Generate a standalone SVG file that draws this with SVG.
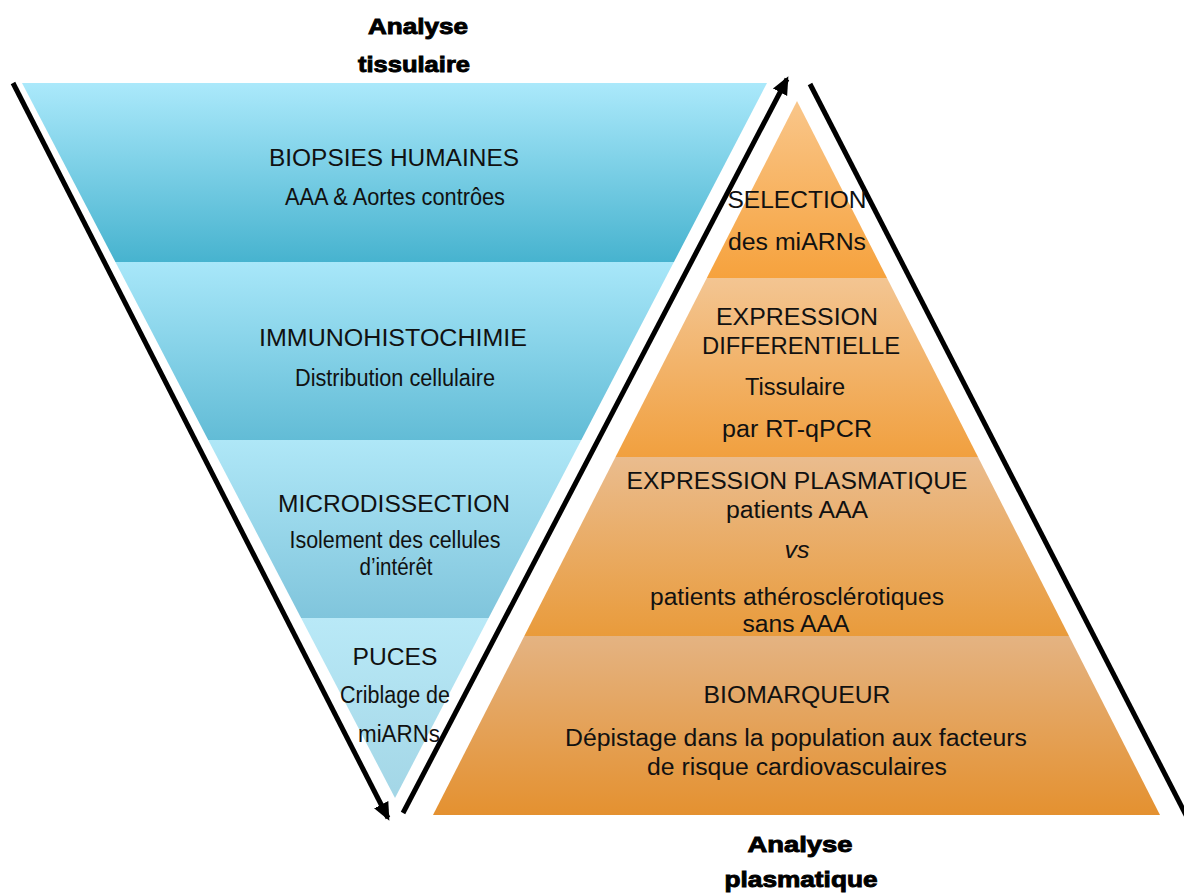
<svg xmlns="http://www.w3.org/2000/svg" width="1184" height="894" viewBox="0 0 1184 894">
<defs>
<linearGradient id="b1" x1="0" y1="0" x2="0" y2="1"><stop offset="0" stop-color="#abe9fb"/><stop offset="1" stop-color="#47b3cf"/></linearGradient>
<linearGradient id="b2" x1="0" y1="0" x2="0" y2="1"><stop offset="0" stop-color="#a8e7f9"/><stop offset="1" stop-color="#62bcd6"/></linearGradient>
<linearGradient id="b3" x1="0" y1="0" x2="0" y2="1"><stop offset="0" stop-color="#afe7f7"/><stop offset="1" stop-color="#80c5dc"/></linearGradient>
<linearGradient id="b4" x1="0" y1="0" x2="0" y2="1"><stop offset="0" stop-color="#b9e9f7"/><stop offset="1" stop-color="#a3d6e6"/></linearGradient>
<linearGradient id="o1" x1="0" y1="0" x2="0" y2="1"><stop offset="0" stop-color="#f9c68a"/><stop offset="1" stop-color="#f6a23d"/></linearGradient>
<linearGradient id="o2" x1="0" y1="0" x2="0" y2="1"><stop offset="0" stop-color="#f3c592"/><stop offset="1" stop-color="#f1a03f"/></linearGradient>
<linearGradient id="o3" x1="0" y1="0" x2="0" y2="1"><stop offset="0" stop-color="#eabc8e"/><stop offset="1" stop-color="#e99b3b"/></linearGradient>
<linearGradient id="o4" x1="0" y1="0" x2="0" y2="1"><stop offset="0" stop-color="#e4b382"/><stop offset="1" stop-color="#e49130"/></linearGradient>
<marker id="ah" markerUnits="userSpaceOnUse" markerWidth="20" markerHeight="18" refX="15" refY="8" orient="auto" viewBox="0 0 20 16">
<path d="M0,0 L18,8 L0,16 z" fill="#000"/>
</marker>
<style>
.t{font-family:"Liberation Sans",Arial,sans-serif;font-size:23px;fill:#111;text-anchor:middle}
.h{font-family:"Liberation Sans",Arial,sans-serif;font-size:22px;font-weight:bold;fill:#000;stroke:#000;stroke-width:0.9;text-anchor:middle}
.ln{stroke:#000;stroke-width:5;fill:none}
</style>
</defs>

<g id="tissue-funnel">
<polygon points="22,83 767,83 673.9,262 115.4,262" fill="url(#b1)"/>
<polygon points="115.4,262 673.9,262 581.3,440 208.2,440" fill="url(#b2)"/>
<polygon points="208.2,440 581.3,440 488.6,618 301.1,618" fill="url(#b3)"/>
<polygon points="301.1,618 488.6,618 395,798" fill="url(#b4)"/>
</g>

<g id="plasma-pyramid">
<polygon points="797,101 887,278 706.8,278" fill="url(#o1)"/>
<polygon points="706.8,278 887,278 978,457 615.5,457" fill="url(#o2)"/>
<polygon points="615.5,457 978,457 1069,636 524.3,636" fill="url(#o3)"/>
<polygon points="524.3,636 1069,636 1160,815 433,815" fill="url(#o4)"/>
</g>

<g id="connectors">
<line class="ln" x1="13" y1="83" x2="388" y2="818" marker-end="url(#ah)"/>
<line class="ln" x1="403" y1="813" x2="787" y2="79" marker-end="url(#ah)"/>
<line class="ln" x1="810" y1="84" x2="1187" y2="817"/>
</g>

<g id="title-tissue">
<text class="h" x="418" y="34" textLength="100" lengthAdjust="spacingAndGlyphs">Analyse</text>
<text class="h" x="414" y="72" textLength="112" lengthAdjust="spacingAndGlyphs">tissulaire</text>
</g>
<g id="title-plasma">
<text class="h" x="800" y="852" textLength="105" lengthAdjust="spacingAndGlyphs">Analyse</text>
<text class="h" x="801" y="887" textLength="153" lengthAdjust="spacingAndGlyphs">plasmatique</text>
</g>

<g id="node-biopsies">
<text class="t" x="394" y="166" textLength="250" lengthAdjust="spacingAndGlyphs">BIOPSIES HUMAINES</text>
<text class="t" x="395" y="205" textLength="220" lengthAdjust="spacingAndGlyphs">AAA &amp; Aortes contrôes</text>
</g>
<g id="node-immuno">
<text class="t" x="393" y="346" textLength="268" lengthAdjust="spacingAndGlyphs">IMMUNOHISTOCHIMIE</text>
<text class="t" x="395" y="386" textLength="200" lengthAdjust="spacingAndGlyphs">Distribution cellulaire</text>
</g>
<g id="node-microdissection">
<text class="t" x="394" y="512" textLength="232" lengthAdjust="spacingAndGlyphs">MICRODISSECTION</text>
<text class="t" x="395" y="548" textLength="211" lengthAdjust="spacingAndGlyphs">Isolement des cellules</text>
<text class="t" x="396" y="575" textLength="73" lengthAdjust="spacingAndGlyphs">d’intérêt</text>
</g>
<g id="node-puces">
<text class="t" x="395" y="665" textLength="85" lengthAdjust="spacingAndGlyphs">PUCES</text>
<text class="t" x="395" y="703" textLength="110" lengthAdjust="spacingAndGlyphs">Criblage de</text>
<text class="t" x="399" y="742" textLength="82" lengthAdjust="spacingAndGlyphs">miARNs</text>
</g>

<g id="node-selection">
<text class="t" x="797" y="208" textLength="139" lengthAdjust="spacingAndGlyphs">SELECTION</text>
<text class="t" x="797" y="250" textLength="138" lengthAdjust="spacingAndGlyphs">des miARNs</text>
</g>
<g id="node-expression-diff">
<text class="t" x="797" y="325" textLength="162" lengthAdjust="spacingAndGlyphs">EXPRESSION</text>
<text class="t" x="801" y="354" textLength="198" lengthAdjust="spacingAndGlyphs">DIFFERENTIELLE</text>
<text class="t" x="795" y="395" textLength="100" lengthAdjust="spacingAndGlyphs">Tissulaire</text>
<text class="t" x="797" y="437" textLength="150" lengthAdjust="spacingAndGlyphs">par RT-qPCR</text>
</g>
<g id="node-expression-plasma">
<text class="t" x="797" y="489" textLength="341" lengthAdjust="spacingAndGlyphs">EXPRESSION PLASMATIQUE</text>
<text class="t" x="797" y="518" textLength="142" lengthAdjust="spacingAndGlyphs">patients AAA</text>
<text class="t" x="797" y="558" font-style="italic" textLength="25" lengthAdjust="spacingAndGlyphs">vs</text>
<text class="t" x="797" y="605" textLength="294" lengthAdjust="spacingAndGlyphs">patients athérosclérotiques</text>
<text class="t" x="796" y="632" textLength="107" lengthAdjust="spacingAndGlyphs">sans AAA</text>
</g>
<g id="node-biomarqueur">
<text class="t" x="797" y="703" textLength="187" lengthAdjust="spacingAndGlyphs">BIOMARQUEUR</text>
<text class="t" x="796" y="746" textLength="462" lengthAdjust="spacingAndGlyphs">Dépistage dans la population aux facteurs</text>
<text class="t" x="797" y="775" textLength="300" lengthAdjust="spacingAndGlyphs">de risque cardiovasculaires</text>
</g>
</svg>
